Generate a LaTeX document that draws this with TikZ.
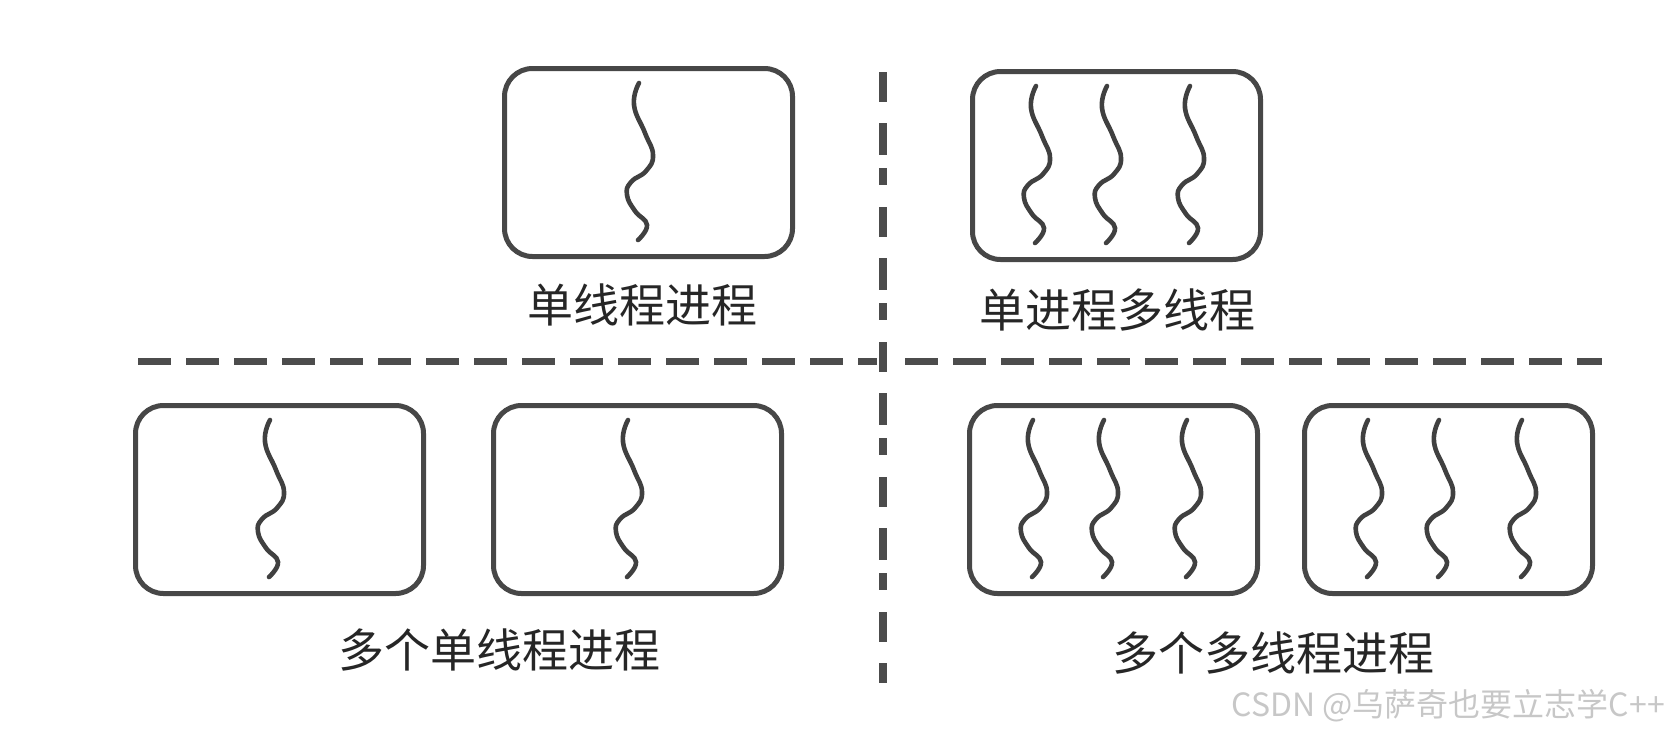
\documentclass[tikz,border=0pt]{standalone}
\usepackage{fontspec}
\newfontfamily\cjk{Noto Sans CJK SC}
\tikzset{
    pics/wavythread/.style={code={
        \draw[threadline] plot[smooth, tension=0.8] coordinates
            {(0,0) (-5,22) (6,50) (14,72) (7,88) (-8,99) (-12,112) (-4,128) (8,142) (-1,157)};
    }}
}
\begin{document}
\begin{tikzpicture}[x=1pt, y=-1pt,
    proc/.style={draw=black!72, line width=5pt, rounded corners=28pt,
        minimum width=288pt, minimum height=188pt, anchor=north west, inner sep=0pt},
    threadline/.style={draw=black!75, line width=4.6pt, line cap=round},
    caption/.style={font=\cjk\fontsize{46}{50}\selectfont, text=black!85, inner sep=0pt},
    sepline/.style={draw=black!70, line width=7pt}]
    \useasboundingbox (0,0) rectangle (1672,739);

    % 分隔线
    \draw[sepline, line width=8pt, dash pattern=on 30pt off 21pt on 32pt off 13pt on 17pt off 22pt,
        dash phase=116pt] (883,53) -- (883,683);
    \draw[sepline, dash pattern=on 33pt off 15pt] (138,361) -- (877,361);
    \draw[sepline, dash pattern=on 33pt off 15pt] (905,361) -- (1602,361);

    % 单线程进程
    \node[proc] (pA) at (502,66) {};
    \path (pA.north west) ++(137,17) pic {wavythread};
    \node[caption] (lA) at (642,305) {单线程进程};

    % 单进程多线程
    \node[proc] (pB) at (970,69) {};
    \foreach \dx in {66,137,220}
        \path (pB.north west) ++(\dx,17) pic {wavythread};
    \node[caption] (lB) at (1117,310) {单进程多线程};

    % 多个单线程进程
    \node[proc] (pC) at (133,403) {};
    \node[proc] (pD) at (491,403) {};
    \foreach \p in {pC,pD}
        \path (\p.north west) ++(137,17) pic {wavythread};
    \node[caption] (lC) at (499,650) {多个单线程进程};

    % 多个多线程进程
    \node[proc] (pE) at (967,403) {};
    \node[proc] (pF) at (1302,403) {};
    \foreach \p in {pE,pF}
        \foreach \dx in {66,137,220}
            \path (\p.north west) ++(\dx,17) pic {wavythread};
    \node[caption] (lD) at (1273,653) {多个多线程进程};

    % 水印
    \node[font=\cjk\fontsize{32}{34}\selectfont, text=black!22, anchor=east, inner sep=0pt]
        (wm) at (1665,706) {CSDN @乌萨奇也要立志学C++};
\end{tikzpicture}
\end{document}
